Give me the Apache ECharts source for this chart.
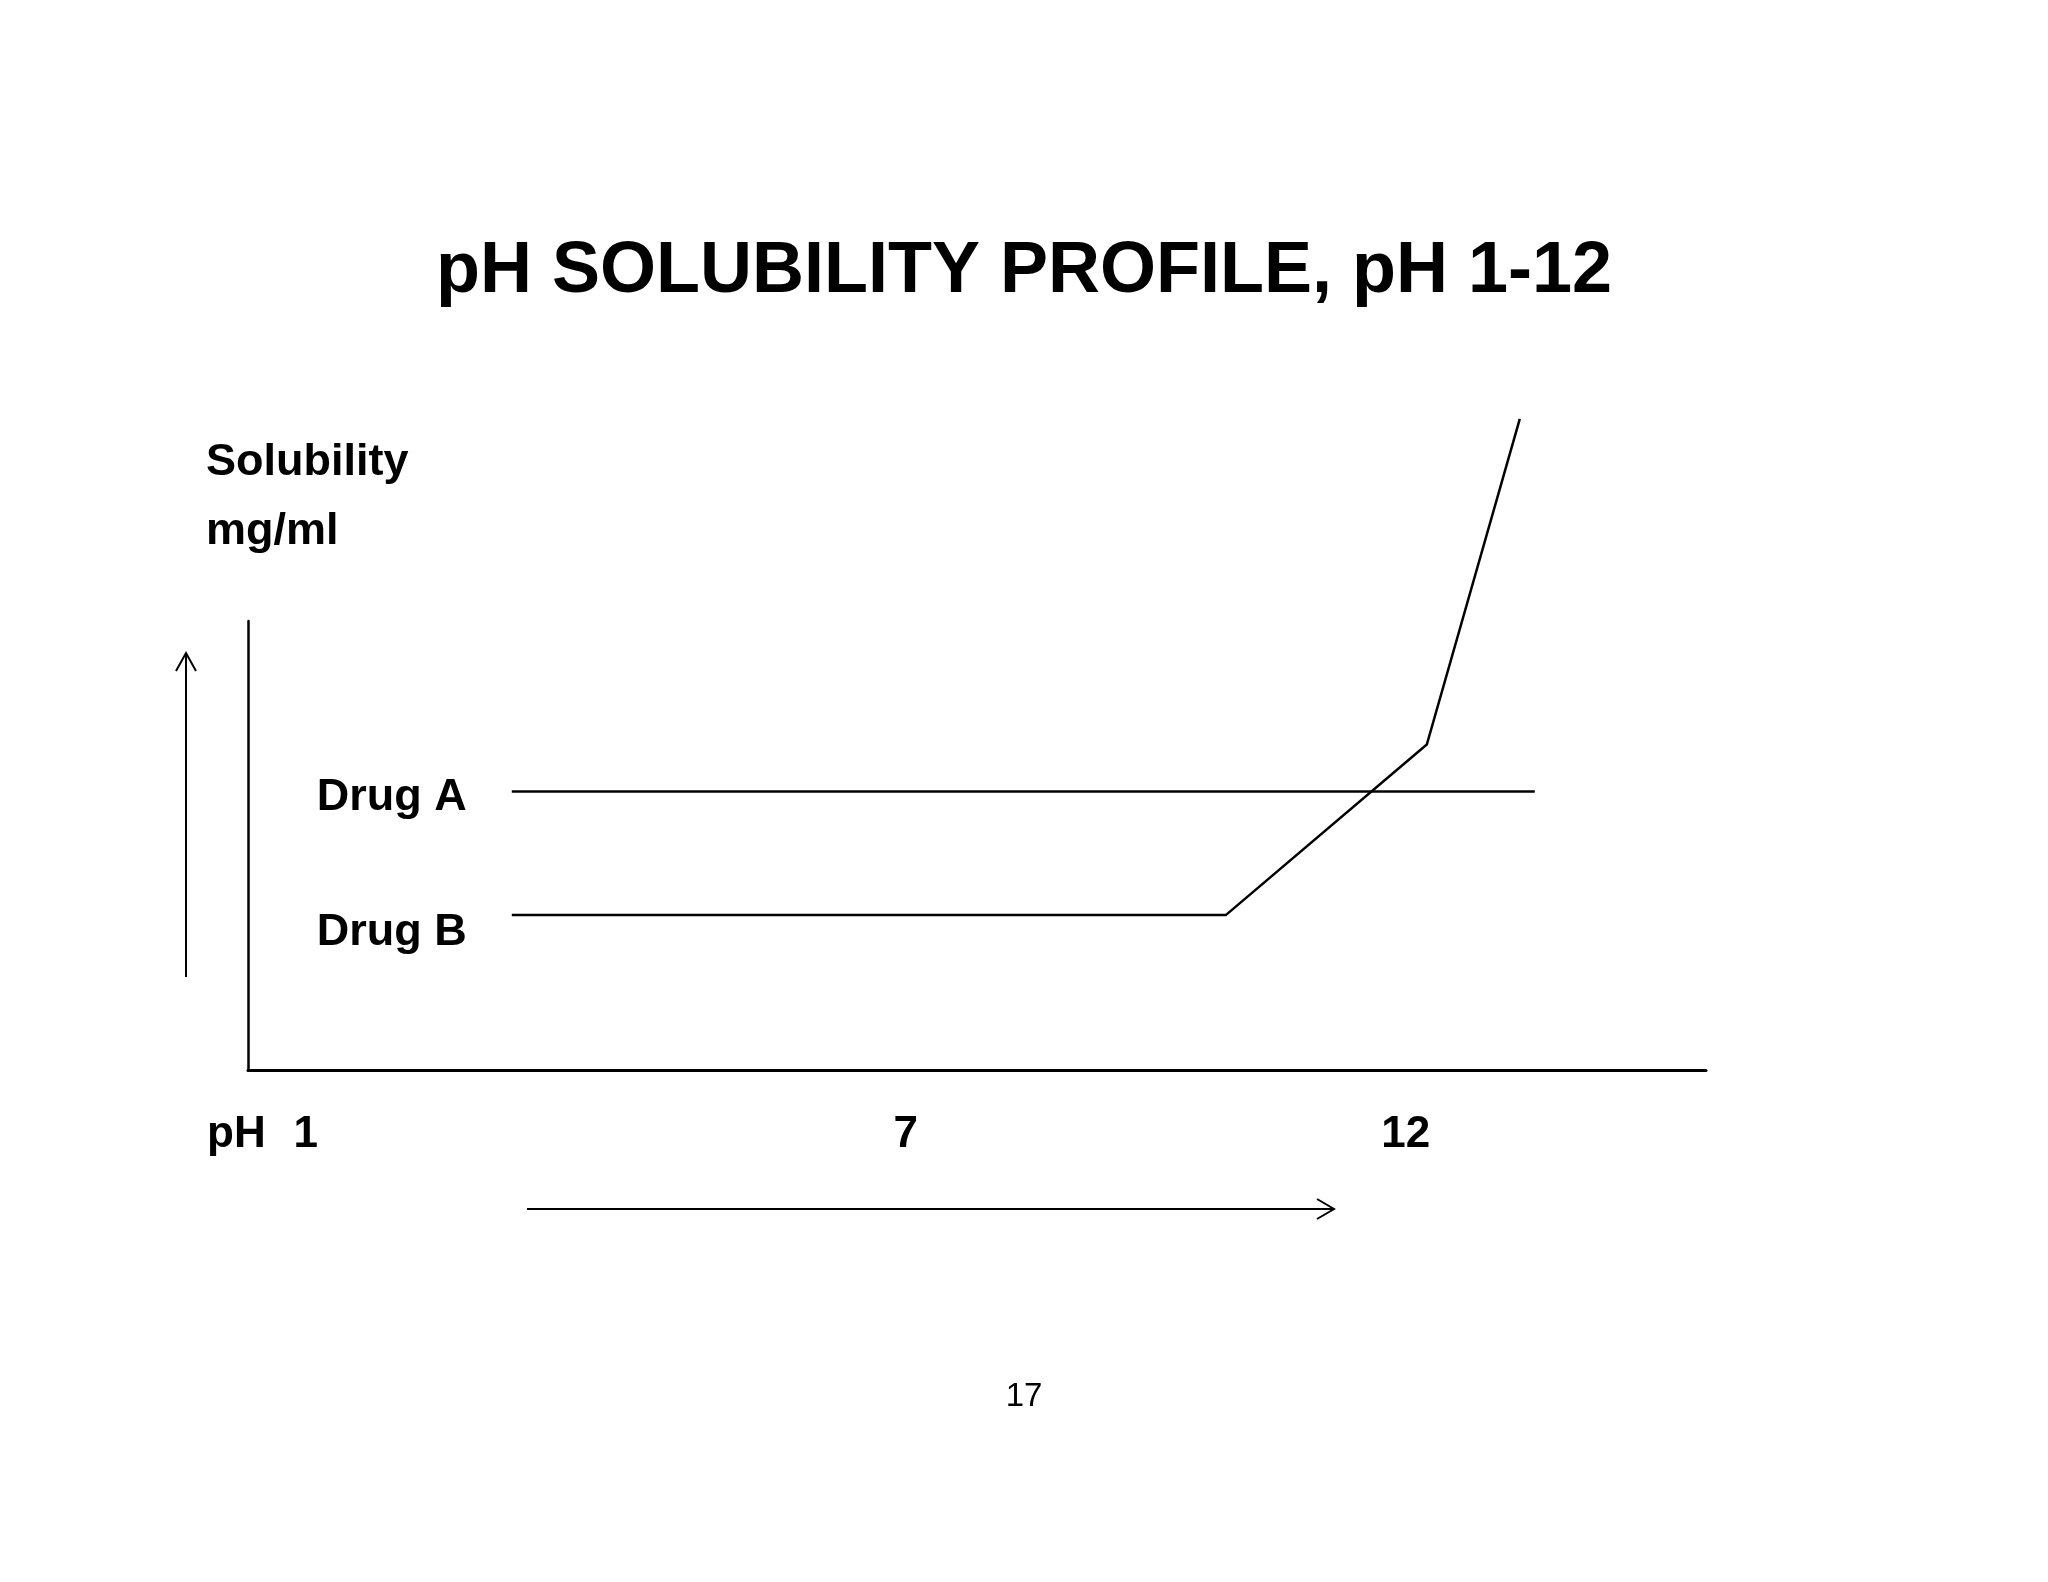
<!DOCTYPE html>
<html>
<head>
<meta charset="utf-8">
<script src="https://cdn.jsdelivr.net/npm/echarts@6/dist/echarts.min.js"></script>
<style>
  html, body { margin: 0; padding: 0; background: #fff; }
  #ph-profile { width: 2048px; height: 1582px; }
</style>
</head>
<body>
<div id="ph-profile"></div>
<script>
// pH values along the x axis, solubility in arbitrary units (schematic)
const drugAPh = [3.06, 13.29]
const drugASol = [6.2, 6.2]
const drugBPh = [3.06, 10.2, 12.21, 13.14]
const drugBSol = [3.45, 3.45, 7.25, 14.5]
const phTicks = [1, 7, 12]
const seriesNames = ['Drug A', 'Drug B']

const FONT = 'Liberation Sans, Arial, sans-serif'

function toPairs (xs, ys) {
  return xs.map((x, i) => [x, ys[i]])
}

function withStartLabel (pairs, dy) {
  return pairs.map((p, i) => {
    if (i !== 0) return p
    return {
      value: p,
      label: {
        show: true,
        position: 'left',
        distance: 45,
        offset: [0, dy],
        formatter: '{a}',
        color: '#000',
        fontFamily: FONT,
        fontWeight: 'bold',
        fontSize: 45
      }
    }
  })
}

const myChart = echarts.init(document.getElementById('ph-profile'))
const option = {
  backgroundColor: '#fff',
  animation: false,
  title: {
    text: 'pH SOLUBILITY PROFILE, pH 1-12',
    left: 'center',
    top: 231,
    textStyle: {
      fontFamily: FONT,
      fontWeight: 'bold',
      fontSize: 72,
      lineHeight: 72,
      color: '#000'
    }
  },
  grid: {
    left: 248,
    right: 342,
    top: 621,
    bottom: 512
  },
  xAxis: {
    type: 'value',
    min: 0.422,
    max: 15.002,
    splitLine: { show: false },
    axisTick: { show: false },
    axisLine: { lineStyle: { color: '#000', width: 3 } },
    axisLabel: {
      customValues: phTicks,
      showMinLabel: true,
      showMaxLabel: true,
      verticalAlign: 'middle',
      margin: 65,
      color: '#000',
      fontFamily: FONT,
      fontWeight: 'bold',
      fontSize: 44
    }
  },
  yAxis: {
    type: 'value',
    min: 0,
    max: 10,
    splitLine: { show: false },
    axisTick: { show: false },
    axisLabel: { show: false },
    axisLine: { show: true, lineStyle: { color: '#000', width: 2.5 } }
  },
  series: [
    {
      name: seriesNames[0],
      type: 'line',
      clip: false,
      silent: true,
      symbol: 'circle',
      symbolSize: 0.1,
      data: withStartLabel(toPairs(drugAPh, drugASol), 6),
      lineStyle: { color: '#000', width: 2.5 },
      itemStyle: { color: '#000' }
    },
    {
      name: seriesNames[1],
      type: 'line',
      clip: false,
      silent: true,
      symbol: 'circle',
      symbolSize: 0.1,
      data: withStartLabel(toPairs(drugBPh, drugBSol), 17),
      lineStyle: { color: '#000', width: 2.5, join: 'miter' },
      itemStyle: { color: '#000' }
    }
  ],
  graphic: [
    {
      type: 'text',
      style: { text: 'Solubility', x: 206, y: 463, textVerticalAlign: 'middle', font: 'bold 45px ' + FONT, fill: '#000' }
    },
    {
      type: 'text',
      style: { text: 'mg/ml', x: 206, y: 532, textVerticalAlign: 'middle', font: 'bold 45px ' + FONT, fill: '#000' }
    },
    {
      type: 'text',
      style: { text: 'pH', x: 207, y: 1135, textVerticalAlign: 'middle', font: 'bold 44px ' + FONT, fill: '#000' }
    },
    {
      type: 'text',
      style: { text: '17', x: 1024, y: 1397, textAlign: 'center', textVerticalAlign: 'middle', font: '33px ' + FONT, fill: '#000' }
    },
    // up arrow beside the solubility axis
    {
      type: 'polyline',
      shape: { points: [[186, 977], [186, 654]] },
      style: { stroke: '#000', lineWidth: 2, fill: null }
    },
    {
      type: 'polyline',
      shape: { points: [[176, 671], [186, 653], [196, 671]] },
      style: { stroke: '#000', lineWidth: 2, fill: null }
    },
    // right arrow under the pH axis
    {
      type: 'polyline',
      shape: { points: [[527, 1209], [1333, 1209]] },
      style: { stroke: '#000', lineWidth: 2, fill: null }
    },
    {
      type: 'polyline',
      shape: { points: [[1317, 1199], [1334, 1209], [1317, 1219]] },
      style: { stroke: '#000', lineWidth: 2, fill: null }
    }
  ]
}
option && myChart.setOption(option)
</script>
</body>
</html>
